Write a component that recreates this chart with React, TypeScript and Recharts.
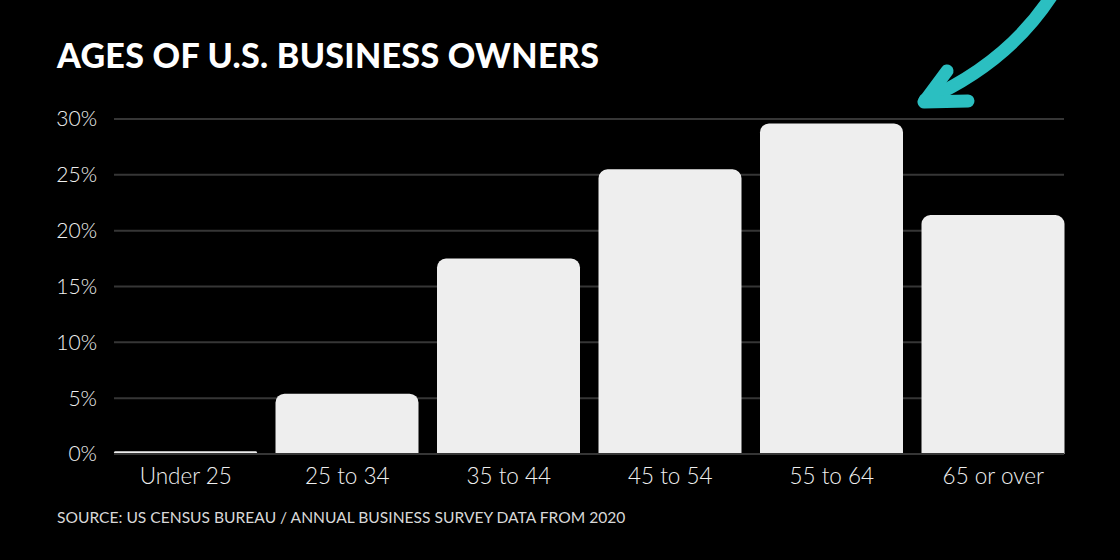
import { BarChart, Bar, XAxis, YAxis, CartesianGrid } from 'recharts';

const CATEGORIES = ['Under 25', '25 to 34', '35 to 44', '45 to 54', '55 to 64', '65 or over'];
const SHARES = [0.25, 5.4, 17.5, 25.5, 29.6, 21.4];
const Y_TICKS = [0, 5, 10, 15, 20, 25, 30];

const data = CATEGORIES.map((age, i) => ({ age, share: SHARES[i] }));

const FONT = 'Lato, "DejaVu Sans", sans-serif';

export default function App() {
  return (
    <div style={{ position: 'absolute', left: 0, top: 0, width: 1120, height: 560, background: '#000', overflow: 'hidden', fontFamily: FONT }}>
      <div style={{ position: 'absolute', left: 57, top: 34, color: '#fff', fontSize: 34, fontWeight: 900, letterSpacing: 0.3, whiteSpace: 'nowrap' }}>
        AGES OF U.S. BUSINESS OWNERS
      </div>

      <BarChart width={1120} height={560} data={data} margin={{ top: 119, right: 56, bottom: 66, left: 0 }} barCategoryGap={0}>
        <CartesianGrid vertical={false} stroke="#363636" strokeWidth={2} />
        <XAxis
          dataKey="age"
          height={40}
          tickLine={false}
          axisLine={{ stroke: '#363636', strokeWidth: 2 }}
          tickSize={0}
          tickMargin={14}
          padding={{ left: -9, right: -10 }}
          tick={{ fill: '#f0f0f0', fontSize: 22.5, fontFamily: FONT, fontWeight: 300 }}
        />
        <YAxis
          width={114}
          domain={[0, 30]}
          ticks={Y_TICKS}
          tickFormatter={(v) => `${v}%`}
          axisLine={false}
          tickLine={false}
          tickSize={0}
          tickMargin={17}
          tick={{ fill: '#f0f0f0', fontSize: 21, fontFamily: FONT, fontWeight: 300 }}
        />
        <Bar dataKey="share" fill="#eeeeee" barSize={143} radius={[9, 9, 0, 0]} isAnimationActive={false} />
      </BarChart>

      <div style={{ position: 'absolute', left: 57, top: 508, color: '#d8d8d8', fontSize: 15.6, fontWeight: 400, whiteSpace: 'nowrap' }}>
        SOURCE: US CENSUS BUREAU / ANNUAL BUSINESS SURVEY DATA FROM 2020
      </div>

      <svg width={1120} height={560} style={{ position: 'absolute', left: 0, top: 0, pointerEvents: 'none' }}>
        <g stroke="#2bbfc1" strokeWidth={13} strokeLinecap="round" strokeLinejoin="round" fill="none">
          <path d="M 1054 -8 Q 1010 62 925 100" />
          <path d="M 947 71 L 924 102 L 968 101" />
        </g>
      </svg>
    </div>
  );
}
